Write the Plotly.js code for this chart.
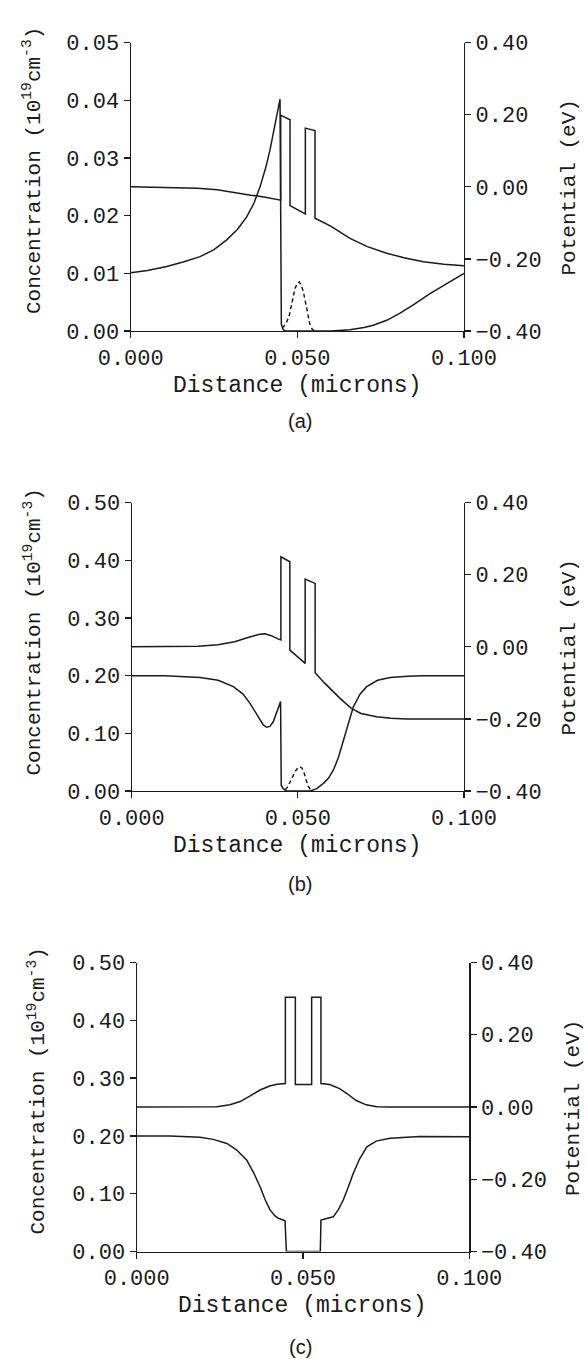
<!DOCTYPE html>
<html>
<head>
<meta charset="utf-8">
<script src="https://cdn.plot.ly/plotly-3.0.1.min.js"></script>
<style>html,body{margin:0;padding:0;background:#fff;}#chart{width:586px;height:1359px;}</style>
</head>
<body>
<div id="chart"></div>
<script>
// ---------- Panel (a) ----------
const aPotX = [0, 0.010, 0.020, 0.026, 0.031, 0.036, 0.040, 0.0450, 0.0450, 0.0478, 0.0478, 0.0524, 0.0524, 0.0553, 0.0553, 0.0600, 0.0658, 0.0710, 0.0768, 0.0820, 0.0878, 0.0940, 0.1000];
const aPot  = [0.000, -0.001, -0.004, -0.008, -0.016, -0.023, -0.028, -0.037, 0.199, 0.186, -0.052, -0.075, 0.163, 0.156, -0.087, -0.109, -0.143, -0.166, -0.184, -0.197, -0.208, -0.215, -0.219];
const aConcX = [0, 0.005, 0.0108, 0.0160, 0.0208, 0.0250, 0.0288, 0.0320, 0.0348, 0.0370, 0.0388, 0.0405, 0.0418, 0.0430, 0.0438, 0.0448, 0.0452, 0.0456, 0.0462, 0.0550, 0.0600, 0.0658, 0.0700, 0.0728, 0.0770, 0.0808, 0.0850, 0.0898, 0.0950, 0.1000];
const aConc  = [0.0101, 0.0105, 0.0112, 0.0120, 0.0129, 0.0141, 0.0158, 0.0176, 0.0198, 0.0222, 0.0250, 0.0283, 0.0314, 0.0350, 0.0372, 0.0402, 0.0012, 0.0004, 0.0, 0.0, 0.0, 0.0002, 0.0006, 0.0010, 0.0019, 0.0031, 0.0046, 0.0065, 0.0083, 0.0100];
const aWellX = [0.0455, 0.0465, 0.0475, 0.0485, 0.0493, 0.0500, 0.0506, 0.0512, 0.0518, 0.0523, 0.0530, 0.0538, 0.0546, 0.0556];
const aWell  = [0.0005, 0.0012, 0.0025, 0.0050, 0.0074, 0.0083, 0.0085, 0.0079, 0.0068, 0.0054, 0.0030, 0.0010, 0.0002, 0.0];

// ---------- Panel (b) ----------
const bPotX = [0, 0.010, 0.020, 0.026, 0.031, 0.035, 0.0385, 0.0401, 0.0420, 0.0440, 0.0449, 0.0449, 0.0476, 0.0476, 0.0522, 0.0522, 0.0552, 0.0552, 0.0580, 0.0627, 0.0660, 0.0690, 0.0737, 0.0780, 0.0828, 0.0900, 0.1000];
const bPot  = [0.000, 0.000, 0.002, 0.006, 0.014, 0.026, 0.035, 0.036, 0.031, 0.022, 0.019, 0.250, 0.236, -0.009, -0.046, 0.188, 0.176, -0.072, -0.100, -0.143, -0.170, -0.185, -0.194, -0.198, -0.200, -0.200, -0.200];
const bConcX = [0, 0.010, 0.0206, 0.0260, 0.0306, 0.0335, 0.0356, 0.0378, 0.0396, 0.0406, 0.0416, 0.0426, 0.0436, 0.0444, 0.0448, 0.0450, 0.0456, 0.0466, 0.0520, 0.0537, 0.0557, 0.0577, 0.0592, 0.0607, 0.0622, 0.0637, 0.0652, 0.0667, 0.0687, 0.0707, 0.0740, 0.0778, 0.0830, 0.0878, 0.1000];
const bConc  = [0.200, 0.200, 0.197, 0.192, 0.181, 0.168, 0.152, 0.132, 0.1145, 0.1105, 0.112, 0.120, 0.137, 0.150, 0.155, 0.010, 0.004, 0.000, 0.000, 0.000, 0.004, 0.0133, 0.022, 0.0364, 0.058, 0.0885, 0.118, 0.146, 0.168, 0.181, 0.192, 0.197, 0.199, 0.200, 0.200];
const bWellX = [0.0462, 0.0470, 0.0477, 0.0484, 0.0492, 0.0500, 0.0506, 0.0512, 0.0519, 0.0526, 0.0532, 0.0541];
const bWell  = [0.002, 0.008, 0.016, 0.025, 0.034, 0.040, 0.042, 0.040, 0.031, 0.017, 0.0075, 0.0];

// ---------- Panel (c) ----------
const cPotX = [0, 0.010, 0.020, 0.0241, 0.0280, 0.0311, 0.0340, 0.0371, 0.0400, 0.0421, 0.0447, 0.0447, 0.0477, 0.0477, 0.0526, 0.0526, 0.0554, 0.0554, 0.0580, 0.0610, 0.0631, 0.0660, 0.0690, 0.0722, 0.0760, 0.0900, 0.1000];
const cPot  = [0.000, 0.000, 0.000, 0.001, 0.006, 0.015, 0.030, 0.047, 0.058, 0.063, 0.065, 0.304, 0.304, 0.062, 0.062, 0.304, 0.304, 0.065, 0.062, 0.051, 0.038, 0.018, 0.006, 0.001, 0.000, 0.000, 0.000];
const cConcX = [0, 0.010, 0.019, 0.0230, 0.0271, 0.0300, 0.0331, 0.0351, 0.0371, 0.0386, 0.0401, 0.0415, 0.0426, 0.0446, 0.0450, 0.0552, 0.0554, 0.0570, 0.0591, 0.0606, 0.0621, 0.0636, 0.0651, 0.0670, 0.0692, 0.0720, 0.0762, 0.0850, 0.1000];
const cConc  = [0.200, 0.200, 0.1976, 0.194, 0.187, 0.176, 0.158, 0.137, 0.112, 0.090, 0.072, 0.062, 0.0574, 0.0533, 0.0, 0.0, 0.0545, 0.057, 0.060, 0.072, 0.089, 0.111, 0.135, 0.160, 0.181, 0.191, 0.196, 0.199, 0.1986];

// ---------- Axis ticks & labels ----------
const xTickVals = [0, 0.05, 0.1];
const xTickText = ["0.000", "0.050", "0.100"];
const concTicksA = [0, 0.01, 0.02, 0.03, 0.04, 0.05];
const concTicksBC = [0, 0.1, 0.2, 0.3, 0.4, 0.5];
const potTicks = [-0.4, -0.2, 0, 0.2, 0.4];
const xTitle = "Distance (microns)";
const yTitle = "Concentration (10<sup>19</sup>cm<sup>-3</sup>)";
const y2Title = "Potential (eV)";
const panelLabels = ["(a)", "(b)", "(c)"];

const W = 586, H = 1359;
const INK = "#1a1a1a";
const MONO = "Liberation Mono, DejaVu Sans Mono, monospace";
const tickFont = {family: MONO, size: 22, color: INK};

// panel geometry in pixels: [left, right, top, bottom]
const geo = [
  {l: 130.7, r: 464.0, t: 42.7, b: 331.0, concMax: 0.05, concTicks: concTicksA, cx: 33, cy: 171, px: 569, py: 187.5, dx: 297.5, dy: 386, lx: 300, ly: 421},
  {l: 131.7, r: 464.0, t: 502.7, b: 791.0, concMax: 0.5, concTicks: concTicksBC, cx: 33, cy: 632.5, px: 569, py: 647.5, dx: 297.5, dy: 846, lx: 300, ly: 884},
  {l: 136.7, r: 469.3, t: 962.5, b: 1251.5, concMax: 0.5, concTicks: concTicksBC, cx: 37, cy: 1091.5, px: 573, py: 1108, dx: 301.5, dy: 1306, lx: 300, ly: 1347}
];
const series = [
  {potX: aPotX, pot: aPot, concX: aConcX, conc: aConc, wellX: aWellX, well: aWell},
  {potX: bPotX, pot: bPot, concX: bConcX, conc: bConc, wellX: bWellX, well: bWell},
  {potX: cPotX, pot: cPot, concX: cConcX, conc: cConc, wellX: null, well: null}
];

const traces = [];
const layout = {
  width: W, height: H,
  margin: {l: 0, r: 0, t: 0, b: 0},
  paper_bgcolor: "#fff", plot_bgcolor: "#fff",
  showlegend: false,
  annotations: []
};

function axisBase() {
  return {
    showline: true, linecolor: INK, linewidth: 1.2,
    ticks: "outside", ticklen: 6, tickwidth: 1.2, tickcolor: INK,
    showgrid: false, zeroline: false, tickfont: tickFont, fixedrange: true
  };
}

geo.forEach((g, i) => {
  const n = i + 1;
  const xName = n === 1 ? "x" : "x" + n;
  const yL = 2 * i + 1, yR = 2 * i + 2;
  const yLName = yL === 1 ? "y" : "y" + yL;
  const yRName = "y" + yR;
  const xKey = n === 1 ? "xaxis" : "xaxis" + n;
  const yLKey = yL === 1 ? "yaxis" : "yaxis" + yL;
  const yRKey = "yaxis" + yR;

  layout[xKey] = Object.assign(axisBase(), {
    domain: [g.l / W, g.r / W], anchor: yLName,
    range: [0, 0.1], tickvals: xTickVals, ticktext: xTickText
  });
  layout[yLKey] = Object.assign(axisBase(), {
    domain: [1 - g.b / H, 1 - g.t / H], anchor: xName,
    range: [0, g.concMax], tickvals: g.concTicks, tickformat: ".2f"
  });
  layout[yRKey] = Object.assign(axisBase(), {
    overlaying: yLName, side: "right", anchor: xName,
    range: [-0.4, 0.4], tickvals: potTicks, tickformat: ".2f"
  });

  const s = series[i];
  traces.push({x: s.potX, y: s.pot, xaxis: xName, yaxis: yRName, mode: "lines",
    line: {color: INK, width: 1.5}, hoverinfo: "skip"});
  traces.push({x: s.concX, y: s.conc, xaxis: xName, yaxis: yLName, mode: "lines",
    line: {color: INK, width: 1.5}, hoverinfo: "skip"});
  if (s.wellX) {
    traces.push({x: s.wellX, y: s.well, xaxis: xName, yaxis: yLName, mode: "lines",
      line: {color: INK, width: 1.5, dash: "4px,3px"}, hoverinfo: "skip"});
  }

  layout.annotations.push(
    {xref: "paper", yref: "paper", x: g.cx / W, y: 1 - g.cy / H, text: yTitle, textangle: -90,
     showarrow: false, xanchor: "center", yanchor: "middle", font: {family: MONO, size: 21, color: INK}},
    {xref: "paper", yref: "paper", x: g.px / W, y: 1 - g.py / H, text: y2Title, textangle: -90,
     showarrow: false, xanchor: "center", yanchor: "middle", font: {family: MONO, size: 21, color: INK}},
    {xref: "paper", yref: "paper", x: g.dx / W, y: 1 - g.dy / H, text: xTitle,
     showarrow: false, xanchor: "center", yanchor: "middle", font: {family: MONO, size: 23, color: INK}},
    {xref: "paper", yref: "paper", x: g.lx / W, y: 1 - g.ly / H, text: panelLabels[i],
     showarrow: false, xanchor: "center", yanchor: "middle", font: {family: "Liberation Sans, Arial, sans-serif", size: 20, color: INK}}
  );
});

Plotly.newPlot("chart", traces, layout, {staticPlot: true, displayModeBar: false});
</script>
</body>
</html>
